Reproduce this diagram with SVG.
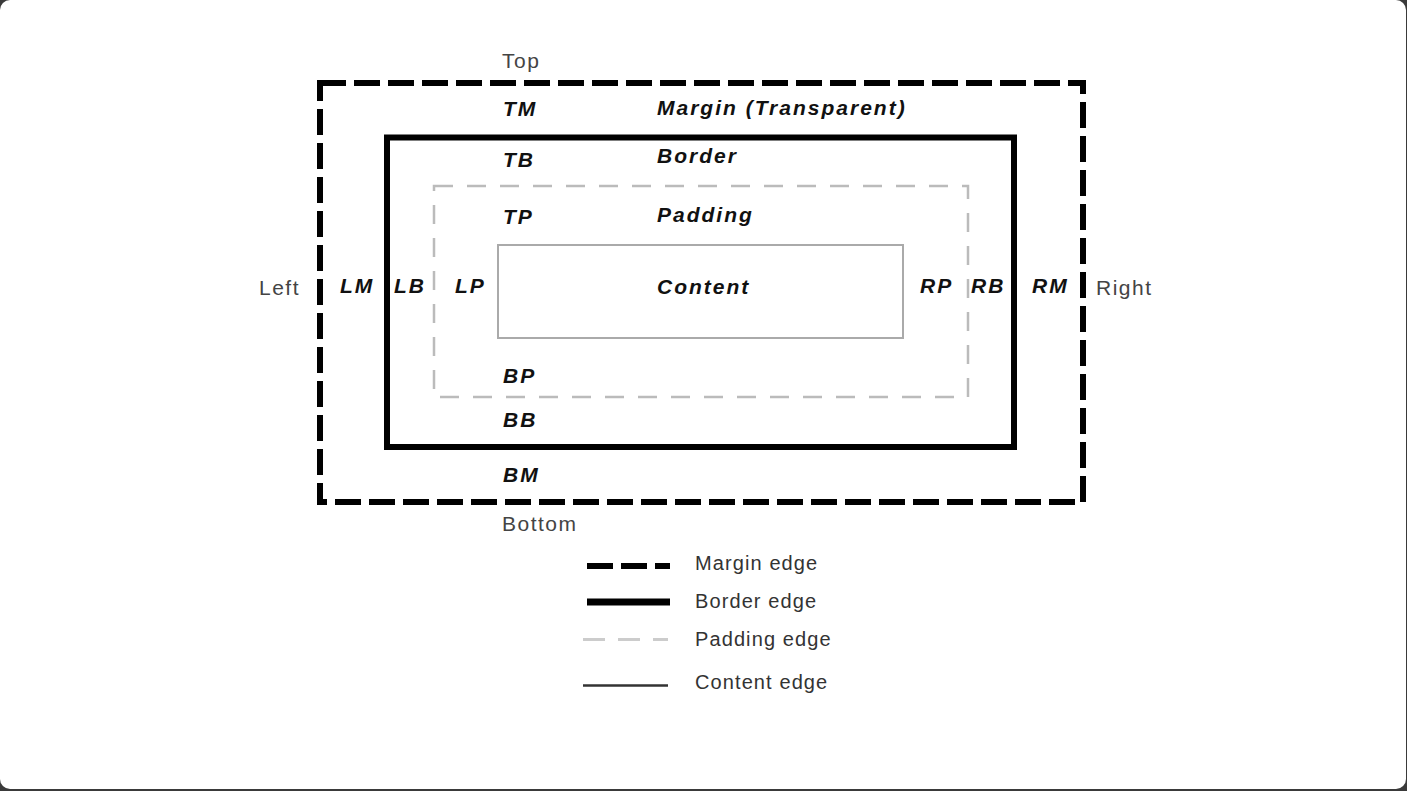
<svg xmlns="http://www.w3.org/2000/svg" width="1407" height="791" viewBox="0 0 1407 791">
<style>
.lbl{font-family:"Liberation Sans",Arial,sans-serif;font-size:21px;font-weight:bold;font-style:italic;fill:#111;letter-spacing:2px}
.side{font-family:"Liberation Sans",Arial,sans-serif;font-size:21px;fill:#444;letter-spacing:1.5px}
.leg{font-family:"Liberation Sans",Arial,sans-serif;font-size:20px;fill:#333;letter-spacing:1.1px}
.margin{fill:none;stroke:#000;stroke-width:6;stroke-dasharray:26 8}
.border{fill:none;stroke:#000;stroke-width:6}
.padding{fill:none;stroke:#bbb;stroke-width:2.5;stroke-dasharray:19 14}
.content{fill:none;stroke:#aaa;stroke-width:2}
</style>
<rect x="0" y="0" width="1407" height="791" fill="#3a3a3a"/>
<rect x="0" y="0" width="1406" height="789" rx="10" fill="#fff"/>
<g id="margin-box">
<rect class="margin" x="320" y="83" width="763" height="419"/>
<text class="side" x="502" y="68">Top</text>
<text class="side" x="259" y="295">Left</text>
<text class="side" x="1096" y="295">Right</text>
<text class="side" x="502" y="531">Bottom</text>
<text class="lbl" x="503" y="116">TM</text>
<text class="lbl" x="657" y="115">Margin (Transparent)</text>
<text class="lbl" x="340" y="293">LM</text>
<text class="lbl" x="1032" y="293">RM</text>
<text class="lbl" x="503" y="482">BM</text>
</g>
<g id="border-box">
<rect class="border" x="387" y="137.5" width="627" height="309.5"/>
<text class="lbl" x="503" y="167">TB</text>
<text class="lbl" x="657" y="163">Border</text>
<text class="lbl" x="394" y="293">LB</text>
<text class="lbl" x="971" y="293">RB</text>
<text class="lbl" x="503" y="427">BB</text>
</g>
<g id="padding-box">
<rect class="padding" x="434" y="186" width="534" height="211"/>
<text class="lbl" x="503" y="224">TP</text>
<text class="lbl" x="657" y="222">Padding</text>
<text class="lbl" x="455" y="293">LP</text>
<text class="lbl" x="920" y="293">RP</text>
<text class="lbl" x="503" y="383">BP</text>
</g>
<g id="content-box">
<rect class="content" x="498" y="245" width="405" height="93"/>
<text class="lbl" x="657" y="294">Content</text>
</g>
<g id="legend">
<line x1="587" y1="566" x2="670" y2="566" stroke="#000" stroke-width="6" stroke-dasharray="26 8"/>
<line x1="587" y1="602" x2="670" y2="602" stroke="#000" stroke-width="7"/>
<line x1="583" y1="639.5" x2="668" y2="639.5" stroke="#ccc" stroke-width="3" stroke-dasharray="22 13"/>
<line x1="583" y1="685.5" x2="668" y2="685.5" stroke="#333" stroke-width="2.5"/>
<text class="leg" x="695" y="570">Margin edge</text>
<text class="leg" x="695" y="608">Border edge</text>
<text class="leg" x="695" y="646">Padding edge</text>
<text class="leg" x="695" y="689">Content edge</text>
</g>
</svg>
